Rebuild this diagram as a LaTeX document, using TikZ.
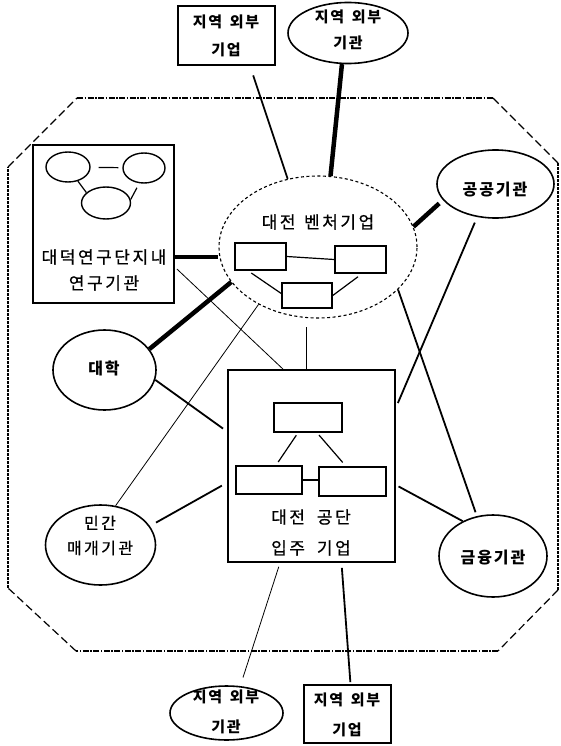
\documentclass[tikz,border=0pt]{standalone}
\usepackage{fontspec}
\usetikzlibrary{shapes.geometric,calc}
\newfontfamily\kr[LetterSpace=15,FakeBold=0.8]{Noto Sans CJK KR}
\newfontfamily\krb[LetterSpace=12]{Noto Sans CJK KR}
\begin{document}
\begin{tikzpicture}[x=1pt,y=-1pt,
  boxn/.style={draw,line width=1.8pt,inner sep=0pt},
  elln/.style={draw,ellipse,line width=1.6pt,inner sep=0pt},
  smallrect/.style={draw,line width=1.5pt,inner sep=0pt},
  smallell/.style={draw,ellipse,line width=1.4pt,inner sep=0pt},
  venture/.style={draw,ellipse,line width=1.1pt,dash pattern=on 3pt off 2.5pt,inner sep=0pt},
  lab/.style={font=\kr\fontsize{16}{28}\selectfont,align=center,inner sep=0pt},
  blab/.style={font=\krb\bfseries\fontsize{15}{26}\selectfont,align=center,inner sep=0pt},
  thinl/.style={line width=0.8pt},
  medl/.style={line width=1.8pt},
  heavyl/.style={line width=4.5pt},
  innerl/.style={line width=1.2pt},
  dashdotl/.style={line width=1.1pt,dash pattern=on 6pt off 1.5pt on 1.5pt off 1.5pt},
  diagl/.style={line width=1.2pt,dash pattern=on 8pt off 4pt},
  vertl/.style={line width=1.2pt,dash pattern=on 3pt off 1pt}
]
\useasboundingbox (0,0) rectangle (561,746);
\fill[white] (0,0) rectangle (561,746);

% octagon boundary
\coordinate (o1) at (77,98);
\coordinate (o2) at (493,98);
\coordinate (o3) at (558,163);
\coordinate (o4) at (558,590);
\coordinate (o5) at (498,651);
\coordinate (o6) at (76,651);
\coordinate (o7) at (8,588);
\coordinate (o8) at (8,167);
\draw[dashdotl] (o1) -- (o2);
\draw[diagl] (o2) -- (o3);
\draw[vertl] (o3) -- (o4);
\draw[diagl] (o4) -- (o5);
\draw[dashdotl] (o5) -- (o6);
\draw[diagl] (o6) -- (o7);
\draw[vertl] (o7) -- (o8);
\draw[diagl] (o8) -- (o1);

% outer nodes
\node[boxn,minimum width=97pt,minimum height=59pt] (T1) at (226.5,35.5) {};
\node[blab,font=\krb\bfseries\fontsize{15}{28}\selectfont] (T1t) at (226,36) {지역\hspace{0.5em}외부\\기업};
\node[elln,minimum width=120pt,minimum height=61pt] (T2) at (348,33) {};
\node[blab] (T2t) at (348,30) {지역\hspace{0.5em}외부\\기관};

\node[elln,minimum width=117pt,minimum height=68pt] (G) at (495.5,184) {};
\node[blab,font=\krb\bfseries\fontsize{16}{26}\selectfont] (Gt) at (495,190) {공공기관};

\node[elln,minimum width=103pt,minimum height=80pt] (U) at (104.5,370) {};
\node[blab,font=\krb\bfseries\fontsize{16}{26}\selectfont] (Ut) at (104,368) {대학};

\node[elln,minimum width=110pt,minimum height=80pt] (M) at (100.5,545) {};
\node[lab,font=\kr\fontsize{16}{25}\selectfont] (Mt) at (100,535.5) {민간\\매개기관};

\node[elln,minimum width=108pt,minimum height=82pt] (F) at (493,556) {};
\node[blab,font=\krb\bfseries\fontsize{16}{26}\selectfont] (Ft) at (493,558) {금융기관};

\node[elln,minimum width=113pt,minimum height=54pt] (E2) at (226.5,713) {};
\node[blab,font=\krb\bfseries\fontsize{15}{30}\selectfont] (E2t) at (226,712) {지역\hspace{0.5em}외부\\기관};

\node[boxn,minimum width=87pt,minimum height=58pt] (E1) at (347.5,714) {};
\node[blab,font=\krb\bfseries\fontsize{15}{30}\selectfont] (E1t) at (347,715) {지역\hspace{0.5em}외부\\기업};

% left research box
\node[boxn,minimum width=141pt,minimum height=158pt] (L) at (103.5,224) {};
\node[smallell,minimum width=44pt,minimum height=30pt] (e1) at (68,167) {};
\node[smallell,minimum width=42pt,minimum height=30pt] (e2) at (144,168) {};
\node[smallell,minimum width=49pt,minimum height=32pt] (e3) at (106,203) {};
\draw[innerl] (e1) -- (e2) [shorten <=8pt,shorten >=4pt];
\draw[innerl] (e1.-55) -- (e3.152);
\draw[innerl,shorten <=5pt] (e2.253) -- (e3.8);
\node[lab,font=\kr\fontsize{17}{26}\selectfont] (Lt) at (104,270) {대덕연구단지내\\연구기관};

% venture ellipse
\node[venture,minimum width=198pt,minimum height=142pt] (V) at (318,247) {};
\node[lab,font=\kr\fontsize{17}{26}\selectfont] (Vt) at (318,222) {대전\hspace{0.5em}벤처기업};
\node[smallrect,minimum width=51pt,minimum height=27pt] (r1) at (260.5,256.5) {};
\node[smallrect,minimum width=51pt,minimum height=27pt] (r2) at (360.5,259.5) {};
\node[smallrect,minimum width=50pt,minimum height=25pt] (r3) at (307,295.5) {};
\draw[innerl] (r1.east) -- (r2.west);
\draw[innerl,shorten <=4pt] ($(r1.south)+(-12.5,0)$) -- ($(r3.west)+(0,-2)$);
\draw[innerl,shorten >=5pt] (r3.east) -- ($(r2.south)+(1.5,0)$);

% big industrial box
\node[boxn,minimum width=167pt,minimum height=192pt] (B) at (311.5,466) {};
\node[smallrect,minimum width=68pt,minimum height=29pt] (t) at (308,417.5) {};
\node[smallrect,minimum width=66pt,minimum height=28pt] (bl) at (269,480) {};
\node[smallrect,minimum width=67pt,minimum height=29pt] (br) at (352.5,481.5) {};
\draw[innerl,shorten <=3pt,shorten >=4pt] ($(t.south)+(-10,0)$) -- ($(bl.north)+(7,0)$);
\draw[innerl,shorten <=3pt,shorten >=5pt] ($(t.south)+(9,0)$) -- ($(br.north)+(-6.5,0)$);
\draw[innerl] (bl.east) -- (bl.east -| br.west);
\node[lab,font=\kr\fontsize{17}{31}\selectfont] (Bt) at (311,532.5) {대전\hspace{0.7em}공단\\입주\hspace{0.7em}기업};

% connectors
\draw[medl,shorten <=10pt] ($(T1.south)+(23.5,0)$) -- (V.114);
\draw[heavyl] (T2.-101) -- (V.80);
\draw[heavyl,shorten <=5pt] (G.197) -- (V.12);
\coordinate (lj) at ($(L.east)+(0,33)$);
\draw[heavyl] (lj) -- (V.west |- lj);
\draw[heavyl] (V.202.7) -- (U.25);
\draw[thinl] ($(L.east)+(2,45)$) -- ($(B.north)+(-28.5,0)$);
\draw[thinl] (V.224) -- (M.69.4);
\coordinate (bt) at ($(B.north)+(-5.5,0)$);
\draw[thinl,shorten >=8pt] (bt) -- (bt |- V.south);
\draw[medl,shorten >=4pt] (V.-28.3) -- (F.112);
\draw[medl,shorten <=6pt] (G.241.7) -- ($(B.east)+(2,-63)$);
\draw[medl,shorten >=5pt] (U.-11) -- ($(B.west)+(0,-34.5)$);
\draw[medl,shorten <=7pt,shorten >=6pt] (M.21.8) -- ($(B.west)+(0,16.7)$);
\draw[medl,shorten <=3pt] ($(B.east)+(0,19)$) -- (F.131.5);
\draw[thinl,shorten <=4pt,shorten >=9pt] ($(B.south)+(-31.5,0)$) -- (E2.63);
\draw[medl,shorten <=5pt,shorten >=2pt] ($(B.south)+(30,0)$) -- ($(E1.north)+(3,0)$);
\end{tikzpicture}
\end{document}
